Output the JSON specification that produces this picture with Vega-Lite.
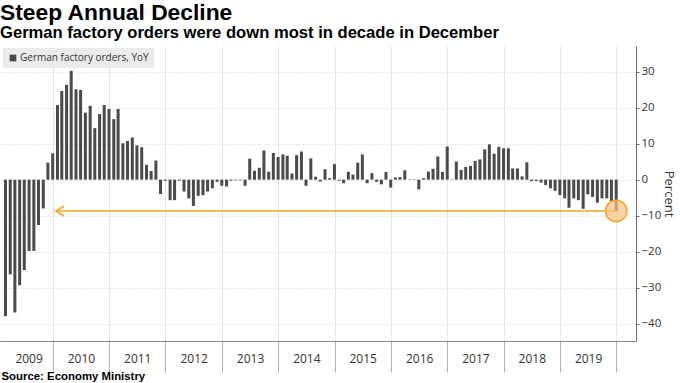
{
  "$schema": "https://vega.github.io/schema/vega-lite/v6.json",
  "width": 636,
  "height": 295,
  "autosize": "none",
  "padding": {"left": 0, "top": 46, "right": 44, "bottom": 42},
  "background": "white",
  "config": {"view": {"stroke": null}, "font": "Open Sans"},
  "title": {
    "text": "Steep Annual Decline",
    "subtitle": "German factory orders were down most in decade in December",
    "anchor": "start",
    "frame": "group",
    "font": "Liberation Sans",
    "fontSize": 22.8,
    "fontWeight": "bold",
    "color": "#000000",
    "subtitleFont": "Liberation Sans",
    "subtitleFontSize": 16.6,
    "subtitleFontWeight": "bold",
    "subtitleColor": "#000000",
    "subtitlePadding": 1,
    "offset": 4
  },
  "layer": [
    {
      "data": {"values": [
        {"date": "2009-02-28", "value": -37.9, "series": "German factory orders, YoY"},
        {"date": "2009-03-31", "value": -26.3, "series": "German factory orders, YoY"},
        {"date": "2009-04-30", "value": -36.9, "series": "German factory orders, YoY"},
        {"date": "2009-05-31", "value": -29.3, "series": "German factory orders, YoY"},
        {"date": "2009-06-30", "value": -25.1, "series": "German factory orders, YoY"},
        {"date": "2009-07-31", "value": -19.8, "series": "German factory orders, YoY"},
        {"date": "2009-08-31", "value": -19.8, "series": "German factory orders, YoY"},
        {"date": "2009-09-30", "value": -12.6, "series": "German factory orders, YoY"},
        {"date": "2009-10-31", "value": -8.0, "series": "German factory orders, YoY"},
        {"date": "2009-11-30", "value": 4.7, "series": "German factory orders, YoY"},
        {"date": "2009-12-31", "value": 7.3, "series": "German factory orders, YoY"},
        {"date": "2010-01-31", "value": 20.7, "series": "German factory orders, YoY"},
        {"date": "2010-02-28", "value": 24.6, "series": "German factory orders, YoY"},
        {"date": "2010-03-31", "value": 26.3, "series": "German factory orders, YoY"},
        {"date": "2010-04-30", "value": 30.2, "series": "German factory orders, YoY"},
        {"date": "2010-05-31", "value": 25.1, "series": "German factory orders, YoY"},
        {"date": "2010-06-30", "value": 24.9, "series": "German factory orders, YoY"},
        {"date": "2010-07-31", "value": 18.6, "series": "German factory orders, YoY"},
        {"date": "2010-08-31", "value": 20.5, "series": "German factory orders, YoY"},
        {"date": "2010-09-30", "value": 14.3, "series": "German factory orders, YoY"},
        {"date": "2010-10-31", "value": 18.2, "series": "German factory orders, YoY"},
        {"date": "2010-11-30", "value": 20.7, "series": "German factory orders, YoY"},
        {"date": "2010-12-31", "value": 19.6, "series": "German factory orders, YoY"},
        {"date": "2011-01-31", "value": 16.8, "series": "German factory orders, YoY"},
        {"date": "2011-02-28", "value": 19.6, "series": "German factory orders, YoY"},
        {"date": "2011-03-31", "value": 10.1, "series": "German factory orders, YoY"},
        {"date": "2011-04-30", "value": 10.7, "series": "German factory orders, YoY"},
        {"date": "2011-05-31", "value": 11.7, "series": "German factory orders, YoY"},
        {"date": "2011-06-30", "value": 9.5, "series": "German factory orders, YoY"},
        {"date": "2011-07-31", "value": 9.0, "series": "German factory orders, YoY"},
        {"date": "2011-08-31", "value": 4.1, "series": "German factory orders, YoY"},
        {"date": "2011-09-30", "value": 2.4, "series": "German factory orders, YoY"},
        {"date": "2011-10-31", "value": 5.3, "series": "German factory orders, YoY"},
        {"date": "2011-11-30", "value": -4.0, "series": "German factory orders, YoY"},
        {"date": "2011-12-31", "value": -0.3, "series": "German factory orders, YoY"},
        {"date": "2012-01-31", "value": -5.7, "series": "German factory orders, YoY"},
        {"date": "2012-02-29", "value": -5.7, "series": "German factory orders, YoY"},
        {"date": "2012-03-31", "value": -0.3, "series": "German factory orders, YoY"},
        {"date": "2012-04-30", "value": -3.3, "series": "German factory orders, YoY"},
        {"date": "2012-05-31", "value": -5.2, "series": "German factory orders, YoY"},
        {"date": "2012-06-30", "value": -7.3, "series": "German factory orders, YoY"},
        {"date": "2012-07-31", "value": -4.5, "series": "German factory orders, YoY"},
        {"date": "2012-08-31", "value": -4.3, "series": "German factory orders, YoY"},
        {"date": "2012-09-30", "value": -3.3, "series": "German factory orders, YoY"},
        {"date": "2012-10-31", "value": -2.4, "series": "German factory orders, YoY"},
        {"date": "2012-11-30", "value": -0.6, "series": "German factory orders, YoY"},
        {"date": "2012-12-31", "value": -1.7, "series": "German factory orders, YoY"},
        {"date": "2013-01-31", "value": -1.9, "series": "German factory orders, YoY"},
        {"date": "2013-02-28", "value": -0.3, "series": "German factory orders, YoY"},
        {"date": "2013-03-31", "value": -0.2, "series": "German factory orders, YoY"},
        {"date": "2013-04-30", "value": -0.2, "series": "German factory orders, YoY"},
        {"date": "2013-05-31", "value": -1.7, "series": "German factory orders, YoY"},
        {"date": "2013-06-30", "value": 5.8, "series": "German factory orders, YoY"},
        {"date": "2013-07-31", "value": 2.5, "series": "German factory orders, YoY"},
        {"date": "2013-08-31", "value": 3.3, "series": "German factory orders, YoY"},
        {"date": "2013-09-30", "value": 8.1, "series": "German factory orders, YoY"},
        {"date": "2013-10-31", "value": 2.2, "series": "German factory orders, YoY"},
        {"date": "2013-11-30", "value": 7.4, "series": "German factory orders, YoY"},
        {"date": "2013-12-31", "value": 6.3, "series": "German factory orders, YoY"},
        {"date": "2014-01-31", "value": 7.0, "series": "German factory orders, YoY"},
        {"date": "2014-02-28", "value": 6.6, "series": "German factory orders, YoY"},
        {"date": "2014-03-31", "value": 1.7, "series": "German factory orders, YoY"},
        {"date": "2014-04-30", "value": 6.8, "series": "German factory orders, YoY"},
        {"date": "2014-05-31", "value": 7.8, "series": "German factory orders, YoY"},
        {"date": "2014-06-30", "value": -1.7, "series": "German factory orders, YoY"},
        {"date": "2014-07-31", "value": 5.9, "series": "German factory orders, YoY"},
        {"date": "2014-08-31", "value": 0.8, "series": "German factory orders, YoY"},
        {"date": "2014-09-30", "value": -0.5, "series": "German factory orders, YoY"},
        {"date": "2014-10-31", "value": 2.9, "series": "German factory orders, YoY"},
        {"date": "2014-11-30", "value": 0.4, "series": "German factory orders, YoY"},
        {"date": "2014-12-31", "value": 4.3, "series": "German factory orders, YoY"},
        {"date": "2015-01-31", "value": -0.3, "series": "German factory orders, YoY"},
        {"date": "2015-02-28", "value": -1.0, "series": "German factory orders, YoY"},
        {"date": "2015-03-31", "value": 2.2, "series": "German factory orders, YoY"},
        {"date": "2015-04-30", "value": 1.4, "series": "German factory orders, YoY"},
        {"date": "2015-05-31", "value": 4.7, "series": "German factory orders, YoY"},
        {"date": "2015-06-30", "value": 7.0, "series": "German factory orders, YoY"},
        {"date": "2015-07-31", "value": -1.0, "series": "German factory orders, YoY"},
        {"date": "2015-08-31", "value": 1.8, "series": "German factory orders, YoY"},
        {"date": "2015-09-30", "value": -0.6, "series": "German factory orders, YoY"},
        {"date": "2015-10-31", "value": -1.3, "series": "German factory orders, YoY"},
        {"date": "2015-11-30", "value": 2.1, "series": "German factory orders, YoY"},
        {"date": "2015-12-31", "value": -2.2, "series": "German factory orders, YoY"},
        {"date": "2016-01-31", "value": 0.6, "series": "German factory orders, YoY"},
        {"date": "2016-02-29", "value": 0.7, "series": "German factory orders, YoY"},
        {"date": "2016-03-31", "value": 2.6, "series": "German factory orders, YoY"},
        {"date": "2016-04-30", "value": 0.1, "series": "German factory orders, YoY"},
        {"date": "2016-05-31", "value": -0.1, "series": "German factory orders, YoY"},
        {"date": "2016-06-30", "value": -2.7, "series": "German factory orders, YoY"},
        {"date": "2016-07-31", "value": 0.4, "series": "German factory orders, YoY"},
        {"date": "2016-08-31", "value": 2.2, "series": "German factory orders, YoY"},
        {"date": "2016-09-30", "value": 3.0, "series": "German factory orders, YoY"},
        {"date": "2016-10-31", "value": 6.4, "series": "German factory orders, YoY"},
        {"date": "2016-11-30", "value": 2.1, "series": "German factory orders, YoY"},
        {"date": "2016-12-31", "value": 9.2, "series": "German factory orders, YoY"},
        {"date": "2017-01-31", "value": 0.1, "series": "German factory orders, YoY"},
        {"date": "2017-02-28", "value": 5.0, "series": "German factory orders, YoY"},
        {"date": "2017-03-31", "value": 2.7, "series": "German factory orders, YoY"},
        {"date": "2017-04-30", "value": 3.5, "series": "German factory orders, YoY"},
        {"date": "2017-05-31", "value": 3.8, "series": "German factory orders, YoY"},
        {"date": "2017-06-30", "value": 5.2, "series": "German factory orders, YoY"},
        {"date": "2017-07-31", "value": 5.6, "series": "German factory orders, YoY"},
        {"date": "2017-08-31", "value": 8.4, "series": "German factory orders, YoY"},
        {"date": "2017-09-30", "value": 9.8, "series": "German factory orders, YoY"},
        {"date": "2017-10-31", "value": 7.2, "series": "German factory orders, YoY"},
        {"date": "2017-11-30", "value": 9.1, "series": "German factory orders, YoY"},
        {"date": "2017-12-31", "value": 8.7, "series": "German factory orders, YoY"},
        {"date": "2018-01-31", "value": 8.7, "series": "German factory orders, YoY"},
        {"date": "2018-02-28", "value": 3.1, "series": "German factory orders, YoY"},
        {"date": "2018-03-31", "value": 3.1, "series": "German factory orders, YoY"},
        {"date": "2018-04-30", "value": 0.9, "series": "German factory orders, YoY"},
        {"date": "2018-05-31", "value": 4.8, "series": "German factory orders, YoY"},
        {"date": "2018-06-30", "value": -0.4, "series": "German factory orders, YoY"},
        {"date": "2018-07-31", "value": -0.4, "series": "German factory orders, YoY"},
        {"date": "2018-08-31", "value": -0.8, "series": "German factory orders, YoY"},
        {"date": "2018-09-30", "value": -1.5, "series": "German factory orders, YoY"},
        {"date": "2018-10-31", "value": -2.4, "series": "German factory orders, YoY"},
        {"date": "2018-11-30", "value": -3.1, "series": "German factory orders, YoY"},
        {"date": "2018-12-31", "value": -4.3, "series": "German factory orders, YoY"},
        {"date": "2019-01-31", "value": -5.2, "series": "German factory orders, YoY"},
        {"date": "2019-02-28", "value": -7.8, "series": "German factory orders, YoY"},
        {"date": "2019-03-31", "value": -5.2, "series": "German factory orders, YoY"},
        {"date": "2019-04-30", "value": -5.7, "series": "German factory orders, YoY"},
        {"date": "2019-05-31", "value": -8.1, "series": "German factory orders, YoY"},
        {"date": "2019-06-30", "value": -4.1, "series": "German factory orders, YoY"},
        {"date": "2019-07-31", "value": -4.8, "series": "German factory orders, YoY"},
        {"date": "2019-08-31", "value": -6.4, "series": "German factory orders, YoY"},
        {"date": "2019-09-30", "value": -5.2, "series": "German factory orders, YoY"},
        {"date": "2019-10-31", "value": -5.2, "series": "German factory orders, YoY"},
        {"date": "2019-11-30", "value": -6.1, "series": "German factory orders, YoY"},
        {"date": "2019-12-31", "value": -8.7, "series": "German factory orders, YoY"}
      ]},
      "mark": {"type": "bar", "width": 3, "clip": true},
      "encoding": {
        "x": {
          "field": "date",
          "type": "temporal",
          "scale": {"type": "utc", "domain": [
            {"year": 2009, "month": 2, "date": 25, "utc": true},
            {"year": 2020, "month": 4, "date": 5, "utc": true}
          ]},
          "axis": {
            "orient": "bottom",
            "values": [
              {"year": 2010, "month": 1, "date": 1, "utc": true},
              {"year": 2011, "month": 1, "date": 1, "utc": true},
              {"year": 2012, "month": 1, "date": 1, "utc": true},
              {"year": 2013, "month": 1, "date": 1, "utc": true},
              {"year": 2014, "month": 1, "date": 1, "utc": true},
              {"year": 2015, "month": 1, "date": 1, "utc": true},
              {"year": 2016, "month": 1, "date": 1, "utc": true},
              {"year": 2017, "month": 1, "date": 1, "utc": true},
              {"year": 2018, "month": 1, "date": 1, "utc": true},
              {"year": 2019, "month": 1, "date": 1, "utc": true},
              {"year": 2020, "month": 1, "date": 1, "utc": true}
            ],
            "labels": false,
            "ticks": true,
            "tickSize": 31,
            "tickColor": "#b0b0b0",
            "domain": true,
            "domainColor": "#8c8c8c",
            "grid": true,
            "gridColor": "#e6e6e6",
            "title": null
          }
        },
        "y": {
          "field": "value",
          "type": "quantitative",
          "title": "Percent",
          "scale": {"domain": [-44.8, 37.1], "nice": false, "zero": false},
          "axis": {
            "orient": "right",
            "values": [-40, -30, -20, -10, 0, 10, 20, 30],
            "grid": true,
            "gridColor": "#d6d6d6",
            "gridDash": [1, 2],
            "domainColor": "#6e6e6e",
            "tickColor": "#6e6e6e",
            "tickSize": 3,
            "labelFontSize": 11.5,
            "labelColor": "#333333",
            "labelPadding": 2,
            "titleFontSize": 13,
            "titleFontWeight": "normal",
            "titleColor": "#333333",
            "titlePadding": 1
          }
        },
        "color": {
          "field": "series",
          "type": "nominal",
          "scale": {"range": ["#4a4a4a"]},
          "legend": {
            "title": null,
            "orient": "none",
            "legendX": 3,
            "legendY": 2,
            "fillColor": "#ebebeb",
            "padding": 5,
            "symbolType": "square",
            "symbolSize": 45,
            "symbolStrokeWidth": 0,
            "labelFontSize": 10,
            "labelColor": "#333333",
            "labelOffset": 2
          }
        }
      }
    },
    {
      "data": {"values": [
        {"start": "2010-01-21", "end": "2019-12-31", "value": -8.7}
      ]},
      "mark": {"type": "rule", "color": "#f5a623", "strokeWidth": 1.6},
      "encoding": {
        "x": {
          "field": "start",
          "type": "temporal",
          "axis": {
            "orient": "bottom",
            "values": [
              {"year": 2009, "month": 7, "date": 28, "utc": true},
              {"year": 2010, "month": 7, "date": 2, "utc": true},
              {"year": 2011, "month": 7, "date": 2, "utc": true},
              {"year": 2012, "month": 7, "date": 2, "utc": true},
              {"year": 2013, "month": 7, "date": 2, "utc": true},
              {"year": 2014, "month": 7, "date": 2, "utc": true},
              {"year": 2015, "month": 7, "date": 2, "utc": true},
              {"year": 2016, "month": 7, "date": 2, "utc": true},
              {"year": 2017, "month": 7, "date": 2, "utc": true},
              {"year": 2018, "month": 7, "date": 2, "utc": true},
              {"year": 2019, "month": 7, "date": 2, "utc": true}
            ],
            "labelExpr": "utcFormat(datum.value, '%Y')",
            "ticks": false,
            "domain": false,
            "grid": false,
            "labelFontSize": 12,
            "labelColor": "#333333",
            "labelPadding": 12,
            "labelFlush": false,
            "labelOverlap": false,
            "title": "Source: Economy Ministry",
            "titleFont": "Liberation Sans",
            "titleFontSize": 11.4,
            "titleFontWeight": "bold",
            "titleColor": "#000000",
            "titleAnchor": "start",
            "titleAlign": "left",
            "titleBaseline": "alphabetic",
            "titleX": 1,
            "titleY": 38.5
          }
        },
        "x2": {"field": "end"},
        "y": {"field": "value", "type": "quantitative", "title": "Percent"}
      }
    },
    {
      "data": {"values": [
        {"date": "2010-02-11", "value": -8.7}
      ]},
      "mark": {"type": "point", "shape": "M1,-1L-0.66,0L1,1", "filled": false, "stroke": "#f5a623", "strokeWidth": 1.6, "size": 100, "opacity": 1},
      "encoding": {
        "x": {"field": "date", "type": "temporal", "axis": null},
        "y": {"field": "value", "type": "quantitative", "title": "Percent"}
      }
    },
    {
      "data": {"values": [
        {"date": "2019-12-31", "value": -8.7}
      ]},
      "mark": {"type": "point", "shape": "circle", "filled": true, "fill": "#f8c27f", "fillOpacity": 0.7, "stroke": "#f5a623", "strokeWidth": 1.5, "strokeOpacity": 1, "size": 460, "opacity": 1},
      "encoding": {
        "x": {"field": "date", "type": "temporal", "axis": null},
        "y": {"field": "value", "type": "quantitative", "title": "Percent"}
      }
    }
  ],
  "resolve": {"axis": {"x": "independent"}}
}
